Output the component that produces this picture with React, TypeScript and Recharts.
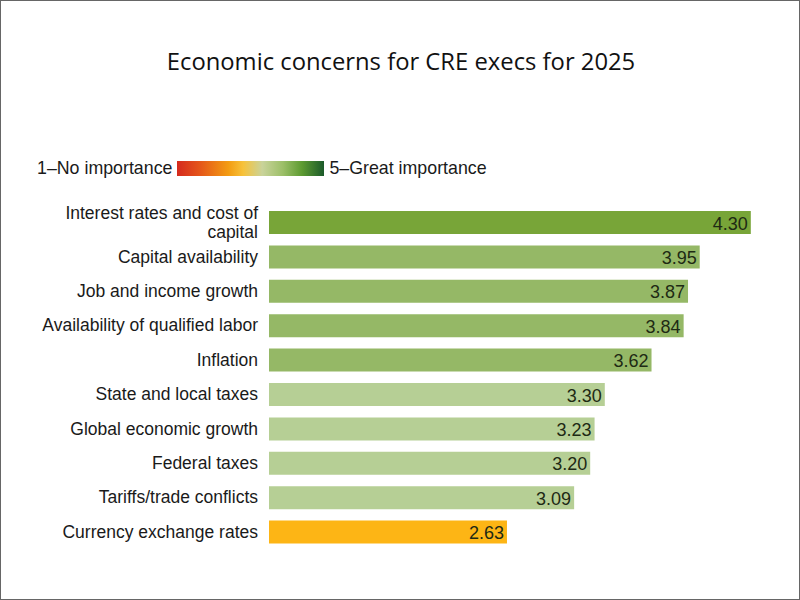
import React from "react";
import { BarChart, Bar, XAxis, YAxis, Cell, LabelList } from "recharts";

const concerns = [
  "Interest rates and cost of capital",
  "Capital availability",
  "Job and income growth",
  "Availability of qualified labor",
  "Inflation",
  "State and local taxes",
  "Global economic growth",
  "Federal taxes",
  "Tariffs/trade conflicts",
  "Currency exchange rates",
];

const scores = [4.3, 3.95, 3.87, 3.84, 3.62, 3.3, 3.23, 3.2, 3.09, 2.63];

const data = concerns.map((name, i) => ({ name, score: scores[i] }));

// color by score band, matches the importance scale
function barColor(v: number) {
  if (v >= 4) return "#78a538";
  if (v >= 3.5) return "#95b866";
  if (v >= 3) return "#b6cf95";
  return "#fdb515";
}

const labelFont = "'Liberation Sans', Arial, sans-serif";

function CategoryTick(props: any) {
  const { x, y, payload } = props;
  const text: string = payload.value;
  // first label wraps onto two lines in the original
  const lines =
    text === concerns[0] ? ["Interest rates and cost of", "capital"] : [text];
  const lh = 19;
  const startY = y - ((lines.length - 1) * lh) / 2;
  return (
    <g>
      {lines.map((l, i) => (
        <text
          key={i}
          x={x}
          y={startY + i * lh}
          textAnchor="end"
          dominantBaseline="central"
          fontSize={17.5}
          fontFamily={labelFont}
          fill="#1a1a1a"
        >
          {l}
        </text>
      ))}
    </g>
  );
}

function ValueLabel(props: any) {
  const { x, y, width, height, value } = props;
  return (
    <text
      x={x + width - 3}
      y={y + height / 2 + 1}
      textAnchor="end"
      dominantBaseline="central"
      fontSize={18}
      fontFamily={labelFont}
      fill="#1e2a14"
    >
      {Number(value).toFixed(2)}
    </text>
  );
}

export default function App() {
  return (
    <div
      style={{
        position: "fixed",
        left: 0,
        top: 0,
        width: 800,
        height: 600,
        boxSizing: "border-box",
        border: "1px solid #666",
        background: "#fff",
        overflow: "hidden",
      }}
    >
      <div
        style={{
          position: "absolute",
          top: 44,
          left: 0,
          width: 800,
          textAlign: "center",
          fontFamily: "'Open Sans', sans-serif",
          fontSize: 23.8,
          color: "#111",
        }}
      >
        Economic concerns for CRE execs for 2025
      </div>

      <div
        style={{
          position: "absolute",
          top: 157,
          left: 36,
          display: "flex",
          alignItems: "center",
          fontFamily: labelFont,
          fontSize: 17.8,
          color: "#1a1a1a",
        }}
      >
        <span>1–No importance</span>
        <span
          style={{
            display: "inline-block",
            width: 147,
            height: 15,
            margin: "0 5px",
            background:
              "linear-gradient(to right, #d52a1e 0%, #e4541a 15%, #f39c12 35%, #f7c23a 45%, #c9d39a 58%, #9cbf68 72%, #5d9b31 85%, #1b5a2a 100%)",
          }}
        />
        <span>5–Great importance</span>
      </div>

      <div style={{ position: "absolute", top: 189, left: 0 }}>
        <BarChart
          width={800}
          height={374}
          data={data}
          layout="vertical"
          margin={{ top: 15, right: 21, bottom: 15, left: 0 }}
        >
          <XAxis type="number" domain={[1, 4.5]} hide />
          <YAxis
            type="category"
            dataKey="name"
            width={268}
            axisLine={false}
            tickLine={false}
            tickSize={0}
            tickMargin={11}
            interval={0}
            tick={<CategoryTick />}
          />
          <Bar dataKey="score" barSize={23} isAnimationActive={false}>
            {data.map((d, i) => (
              <Cell key={i} fill={barColor(d.score)} />
            ))}
            <LabelList dataKey="score" content={<ValueLabel />} />
          </Bar>
        </BarChart>
      </div>
    </div>
  );
}
